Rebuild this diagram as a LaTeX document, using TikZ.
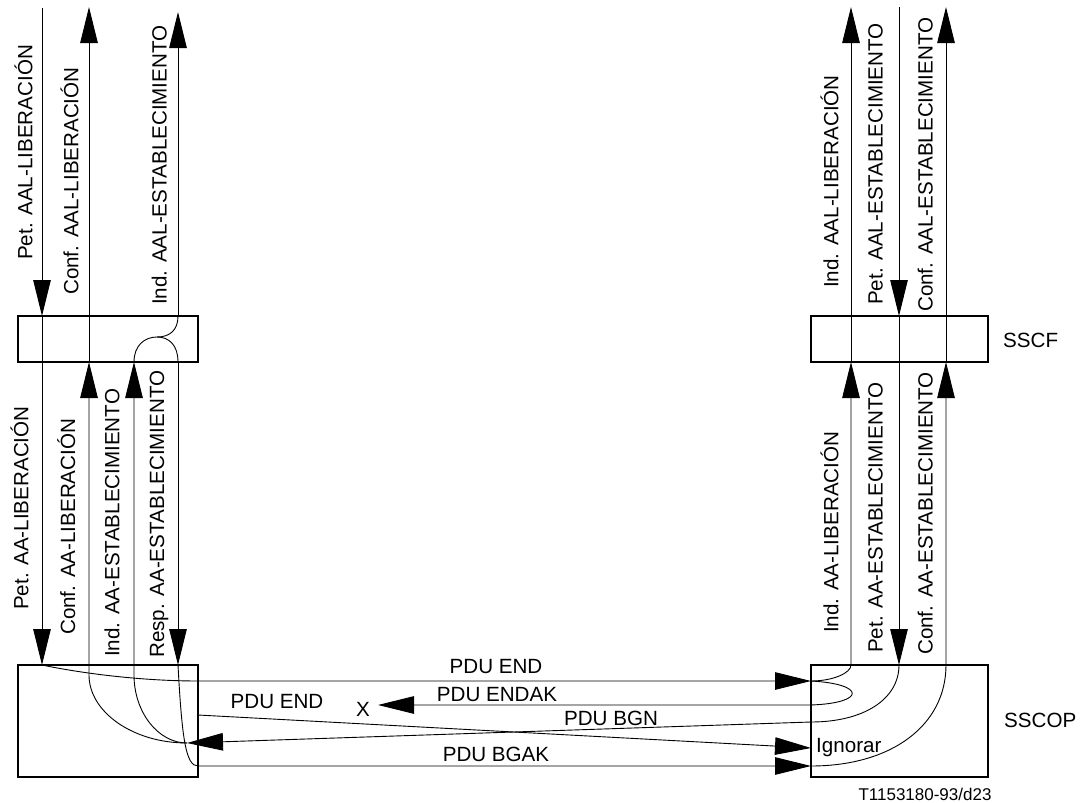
\documentclass[tikz,border=0pt]{standalone}
\usepackage{fontspec}
\setmainfont{Liberation Sans}
\usetikzlibrary{arrows.meta}
\begin{document}
\begin{tikzpicture}[x=1pt,y=-1pt,
  box/.style={draw=black, line width=1.1pt, inner sep=0pt, outer sep=0pt},
  ln/.style={line width=0.9pt},
  arr/.style={ln, -{Triangle[length=36pt,width=17.5pt]}},
  lab/.style={inner sep=0pt, font=\fontsize{20.6}{24}\selectfont},
  vlab/.style={lab, rotate=90, anchor=base west},
  hlab/.style={lab, anchor=base},
]
\useasboundingbox (0,0) rectangle (1085,803);
% boxes
\node[box, minimum width=180pt, minimum height=46pt] (sscfL) at (108,339) {};
\node[box, minimum width=180pt, minimum height=112pt] (sscopL) at (108,721) {};
\node[box, minimum width=177pt, minimum height=46pt] (sscfR) at (899.5,339) {};
\node[box, minimum width=177pt, minimum height=112pt] (sscopR) at (899.5,721) {};
% left coordinates
\coordinate (pLtop) at (42,8);
\coordinate (pL1) at (42,316);
\coordinate (pL2) at (42,362);
\coordinate (pL3) at (42,665);
\coordinate (cLtop) at (89,7);
\coordinate (cL1) at (89,316);
\coordinate (cL2) at (89,362);
\coordinate (cL3) at (89,675);
\coordinate (iLtop) at (178,12);
\coordinate (iL1) at (178,316);
\coordinate (dome) at (157,337);
\coordinate (iL2) at (134,362);
\coordinate (iL3) at (134,675);
\coordinate (rL2) at (178,362);
\coordinate (rL3) at (178,665);
\coordinate (eL1) at (198,681);
\coordinate (eL2) at (198,715);
\coordinate (bL) at (198,766);
\coordinate (tgtL) at (187,743);
% right coordinates
\coordinate (iRtop) at (851,7);
\coordinate (iR1) at (851,316);
\coordinate (iR2) at (851,362);
\coordinate (iR3) at (851,665);
\coordinate (pRtop) at (899,7);
\coordinate (pR1) at (899,316);
\coordinate (pR2) at (899,362);
\coordinate (pR3) at (899,665);
\coordinate (cRtop) at (946,7);
\coordinate (cR1) at (946,316);
\coordinate (cR2) at (946,362);
\coordinate (cR3) at (946,665);
\coordinate (endR) at (811,681);
\coordinate (akR) at (811,705);
\coordinate (gR) at (811,722);
\coordinate (ignR) at (811,748);
\coordinate (bR) at (811,766);
\coordinate (xL) at (378,705);
% left Pet
\draw[arr] (pLtop) -- (pL1);
\draw[ln] (pL1) -- (pL2);
\draw[arr] (pL2) -- (pL3);
\draw[arr] (pL3) .. controls (80,673) and (140,681) .. (eL1) -- (endR);
% left Conf
\draw[arr] (tgtL) .. controls (133,743) and (89,712) .. (cL3) -- (cL2);
\draw[ln] (cL2) -- (cL1);
\draw[arr] (cL1) -- (cLtop);
% left Ind
\draw[arr] (tgtL) .. controls (158,743) and (134,712) .. (iL3) -- (iL2);
\draw[ln] (iL2) .. controls (134,345) and (145,337) .. (dome) .. controls (169,337) and (178,345) .. (rL2);
\draw[ln] (dome) .. controls (170,337) and (178,330) .. (iL1);
\draw[arr] (iL1) -- (iLtop);
% left Resp
\draw[arr] (rL2) -- (rL3);
\draw[arr] (rL3) .. controls (182,740) and (186,766) .. (bL) -- (bR);
% second PDU END
\draw[arr] (eL2) -- (ignR);
% BGN
\draw[arr] (pR3) .. controls (899,699) and (864,722) .. (gR) -- (tgtL);
% ENDAK
\draw[arr] (endR) .. controls (866,684) and (866,703) .. (akR) -- (xL);
% right Ind
\draw[arr] (endR) .. controls (833,681) and (851,673) .. (iR3) -- (iR2);
\draw[ln] (iR2) -- (iR1);
\draw[arr] (iR1) -- (iRtop);
% right Pet
\draw[arr] (pRtop) -- (pR1);
\draw[ln] (pR1) -- (pR2);
\draw[arr] (pR2) -- (pR3);
% right Conf
\draw[arr] (bR) .. controls (892,766) and (946,725) .. (cR3) -- (cR2);
\draw[ln] (cR2) -- (cR1);
\draw[arr] (cR1) -- (cRtop);
% vertical labels
\node[vlab] (v1) at (32.3,260) {Pet. AAL-LIBERACIÓN};
\node[vlab] (v2) at (78.3,295) {Conf. AAL-LIBERACIÓN};
\node[vlab] (v3) at (166.7,305) {Ind. AAL-ESTABLECIMIENTO};
\node[vlab] (v4) at (28.3,610) {Pet. AA-LIBERACIÓN};
\node[vlab] (v5) at (75,635) {Conf. AA-LIBERACIÓN};
\node[vlab] (v6) at (119.3,657) {Ind. AA-ESTABLECIMIENTO};
\node[vlab] (v7) at (164,658) {Resp. AA-ESTABLECIMIENTO};
\node[vlab] (v8) at (838.3,288) {Ind. AAL-LIBERACIÓN};
\node[vlab] (v9) at (882.7,305) {Pet. AAL-ESTABLECIMIENTO};
\node[vlab] (v10) at (932.7,312) {Conf. AAL-ESTABLECIMIENTO};
\node[vlab] (v11) at (838.3,633) {Ind. AA-LIBERACIÓN};
\node[vlab] (v12) at (882.7,653) {Pet. AA-ESTABLECIMIENTO};
\node[vlab] (v13) at (932.7,655) {Conf. AA-ESTABLECIMIENTO};
% horizontal labels
\node[hlab] (h1) at (496,673) {PDU END};
\node[hlab] (h2) at (497,701) {PDU ENDAK};
\node[hlab] (h3) at (611,725) {PDU BGN};
\node[hlab] (h4) at (496,761) {PDU BGAK};
\node[hlab] (h5) at (277,708) {PDU END};
\node[hlab] (hx) at (363,716) {X};
\node[lab, anchor=base west] (ign) at (816,752) {Ignorar};
\node[lab, anchor=base west] (sscf) at (1003,347) {SSCF};
\node[lab, anchor=base west] (sscop) at (1004,727) {SSCOP};
\node[inner sep=0pt, anchor=base, font=\fontsize{17}{20}\selectfont] (code) at (925,800) {T1153180-93/d23};
\end{tikzpicture}
\end{document}
